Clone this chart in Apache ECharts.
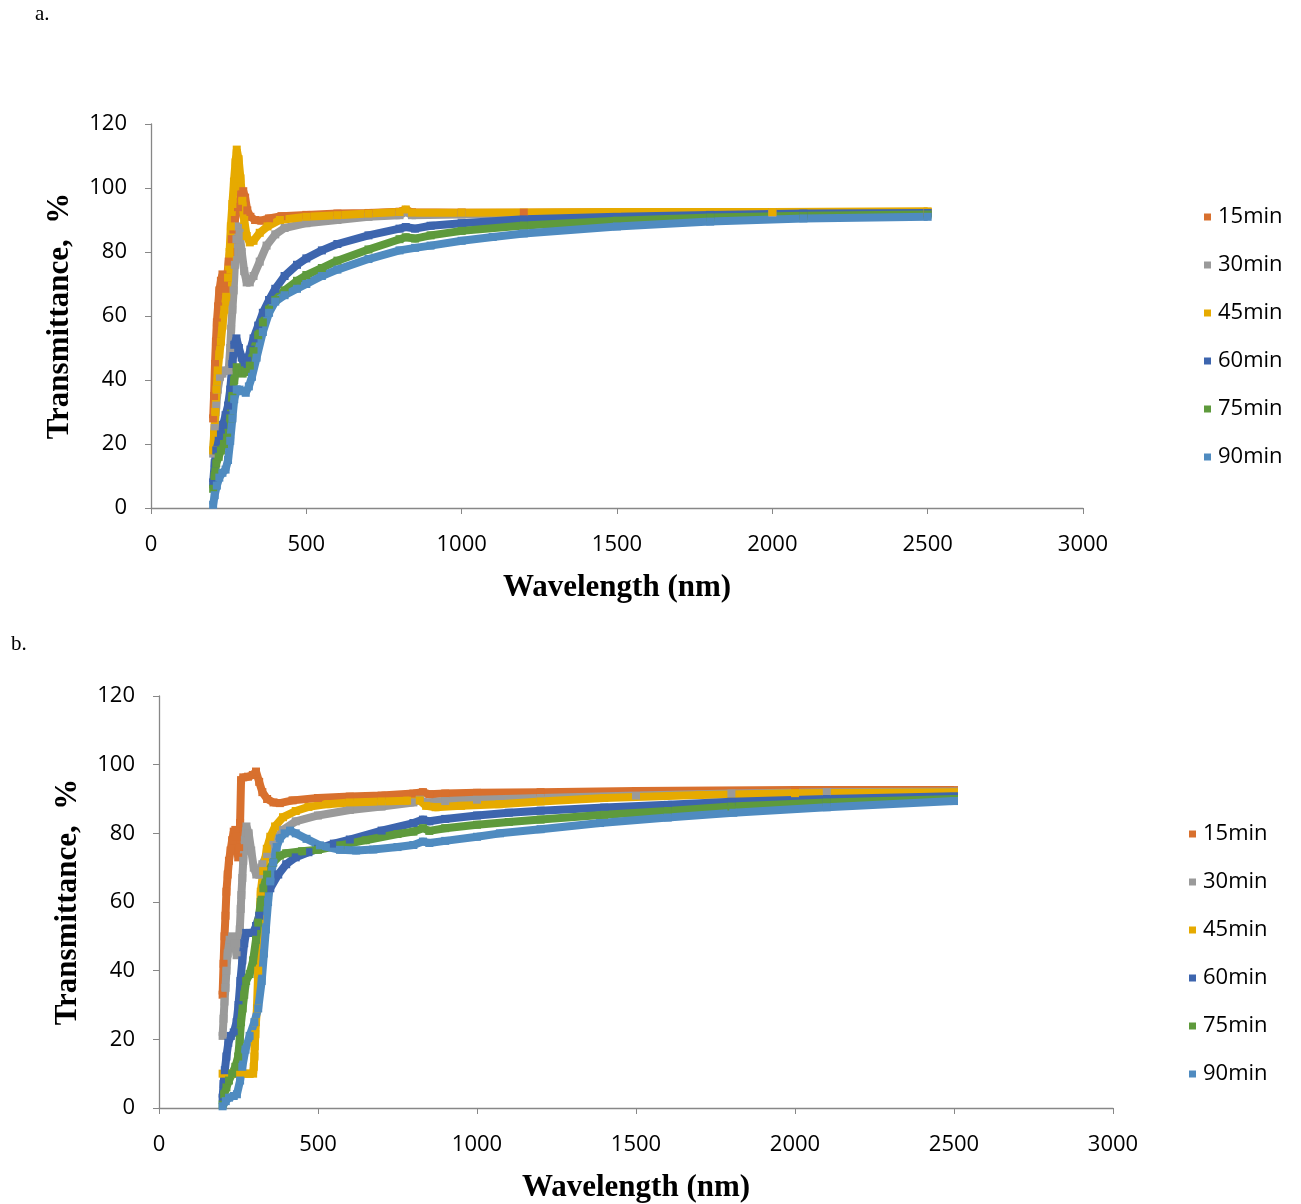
<!DOCTYPE html>
<html>
<head>
<meta charset="utf-8">
<script src="https://cdn.jsdelivr.net/npm/echarts@6/dist/echarts.min.js"></script>
<style>
html,body{margin:0;padding:0;background:#fff;}
#chart{width:1301px;height:1204px;}
</style>
</head>
<body>
<div id="chart"></div>
<script>
// ---------- data (wavelength nm, transmittance %) ----------
var seriesNames = ['15min','30min','45min','60min','75min','90min'];
var xTicks = [0,500,1000,1500,2000,2500,3000];
var yTicks = [0,20,40,60,80,100,120];

// chart a.
var a15 = [[200,28],[203,35],[206,45],[209,52],[212,58],[216,63],[220,68],[225,71],[230,73],[235,70],[240,68],[245,72],[250,77],[255,80],[260,84],[265,87],[270,90],[280,94],[290,98],[297,99],[303,97],[310,93],[320,91],[335,90],[355,89.8],[380,90.5],[420,91.2],[500,91.6],[600,92],[700,92.2],[800,92.6],[820,93],[840,92.4],[1000,92.3],[1200,92.3],[1500,92.4],[2000,92.5],[2500,92.5]];
var a30 = [[200,17],[205,25],[210,32],[215,37],[222,41],[230,42],[240,43],[250,43],[255,50],[258,56],[262,62],[266,68],[270,76],[275,84],[280,88],[285,86],[292,80],[300,74],[308,70.5],[318,70.5],[330,72.5],[350,77],[372,82],[400,85.5],[430,87.5],[500,89],[600,90],[700,91],[800,91.5],[820,92.5],[840,91.5],[1000,91.7],[1500,92],[2000,92.2],[2500,92.3]];
var a45 = [[200,18],[203,23],[207,30],[211,37],[215,43],[220,48],[225,52],[230,57],[236,62],[242,66],[248,72],[253,80],[257,88],[262,95],[267,102],[272,108],[276,112],[282,109],[288,103],[294,96],[300,90],[308,85],[318,83],[330,83.5],[350,86],[375,88],[415,90],[500,91],[600,91.5],[700,92],[800,92.5],[820,93.3],[840,92.3],[1000,92.3],[1500,92.5],[2000,92.5],[2500,92.7]];
var a60 = [[200,8],[205,14],[210,18],[218,21],[225,23],[232,26],[240,29],[248,32],[255,37],[262,45],[268,51],[275,53],[283,50],[292,47],[302,44],[310,46],[320,49.5],[330,53],[345,57],[360,61],[380,65],[400,68.5],[430,72.5],[470,76],[500,78],[550,80.5],[600,82.5],[700,85.2],[800,87.3],[820,87.8],[850,87.3],[900,88.2],[1000,89],[1200,90.2],[1500,91],[1800,91.6],[2100,92],[2500,92.2]];
var a75 = [[200,6],[205,10],[210,14],[218,16],[225,18],[235,20],[245,22],[255,28],[262,35],[268,40],[276,44],[285,43],[295,42],[305,42.5],[318,44.5],[330,49],[345,54],[360,58],[380,62],[400,65],[430,68],[470,71],[500,72.8],[550,75],[600,77.3],[700,80.8],[800,84],[820,84.6],[850,84.2],[900,85.2],[1000,86.6],[1200,88.3],[1500,89.8],[1800,90.8],[2100,91.3],[2500,91.7]];
var a90 = [[200,1],[205,4],[212,7],[220,9.5],[230,11],[240,12],[248,15],[255,21],[262,28],[268,34],[276,37],[285,37],[295,36.5],[305,36],[315,38],[325,41],[340,47],[360,55],[380,61],[400,64.5],[430,66.5],[470,68.5],[500,70],[550,72.5],[600,74.5],[700,77.8],[800,80.5],[850,81.3],[900,82],[1000,83.5],[1100,84.7],[1200,85.8],[1500,88],[1800,89.5],[2100,90.5],[2500,91]];

// chart b.
var b15 = [[200,33],[203,42],[206,50],[209,56],[212,63],[216,68],[220,72],[225,75],[230,78],[235,80.5],[240,81],[245,79],[249,73],[252,76],[255,83],[258,95.5],[265,96.3],[280,96.5],[295,97],[305,98],[315,95],[325,92],[340,90],[360,89],[380,88.8],[420,89.6],[500,90.3],[600,90.7],[700,91],[800,91.6],[830,92],[850,91.4],[900,91.6],[1000,91.8],[1200,92],[1500,92.3],[2000,92.6],[2500,92.6]];
var b30 = [[200,21],[203,26],[206,31],[209,35],[212,40],[216,45],[222,49],[230,50],[238,48],[244,44.5],[250,48],[254,52],[257,58],[259,62],[262,67],[265,72],[270,78],[275,82],[282,80],[290,75],[298,70],[306,68],[315,68],[325,71],[340,74],[360,77],[390,81],[430,83.5],[500,85.2],[600,86.8],[700,87.8],[800,89],[820,89.8],[840,89],[900,89.4],[1000,89.8],[1200,90.3],[1500,91],[1800,91.6],[2100,92],[2500,92.2]];
var b45 = [[200,10],[220,10],[240,10],[255,10],[270,10],[285,10],[296,10],[298,12],[300,15],[301,18],[303,21.5],[305,25],[308,29],[312,40],[316,55],[320,63],[328,69],[339,75.5],[350,79],[365,82],[390,84.7],[430,86.5],[470,87.7],[530,88.5],[600,89],[700,89.3],[780,89.5],[820,89.6],[840,88],[870,87.6],[950,88],[1070,88.5],[1200,89.3],[1400,90.3],[1700,91.2],[2000,91.7],[2500,92]];
var b60 = [[200,3],[203,7],[207,11],[212,15],[218,19],[226,21],[235,22],[244,25],[250,30],[256,37],[262,43],[268,48],[274,51],[285,51],[296,51],[305,53],[315,56],[330,60],[350,64],[375,68],[400,71],[430,73],[470,74.5],[500,75.5],[550,77],[600,78.2],[700,80.8],[800,83],[830,84],[850,83.5],[900,84.2],[1000,85.2],[1100,86],[1200,86.6],[1400,87.5],[1600,88.3],[1800,89.2],[2100,90],[2500,90.8]];
var b75 = [[200,1],[205,4],[212,6],[220,8],[230,10],[240,12],[249,15],[254,20],[258,25],[263,29],[268,33],[274,37],[285,39],[296,43],[305,49],[312,54],[320,60],[328,64],[340,68],[359,71.5],[380,73.5],[400,74.2],[450,74.8],[500,75.2],[570,76.5],[650,78],[750,79.8],[800,80.5],[830,81.5],[850,80.7],[900,81.5],[1000,82.5],[1100,83.3],[1200,84],[1400,85.4],[1600,86.5],[1800,87.8],[2100,89],[2500,90]];
var b90 = [[200,0.5],[210,2],[220,3],[235,3.5],[245,4],[255,8],[262,12],[272,17],[285,21],[300,25],[312,29],[323,37],[330,45],[336,52],[343,60],[350,66],[359,71.5],[370,76],[380,78.5],[395,80],[412,80.8],[430,80],[464,78.4],[506,76.5],[569,75.2],[620,75],[674,75.3],[750,76],[800,76.6],[830,77.6],[850,77.2],[900,77.8],[1000,79],[1072,80],[1200,81.2],[1387,83],[1600,84.6],[1806,86],[2100,87.6],[2500,89.4]];

var colors = ['#D8702E','#9A9A9A','#E6AA00','#3D65AE','#5E9A3C','#4F8BC0'];
var dataA = [a15,a30,a45,a60,a75,a90];
var dataB = [b15,b30,b45,b60,b75,b90];

// ---------- chart ----------
var chart = echarts.init(document.getElementById('chart'), null, {renderer:'canvas'});
var tickFont = {fontFamily:'Open Sans', fontSize:22, color:'#000'};
var titleFont = {fontFamily:'Liberation Serif', fontSize:31, fontWeight:'bold', color:'#000'};
var axisLine = {show:true, lineStyle:{color:'#878787', width:1.3}};
function plain(v){ return String(v); }

function xAxis(gi){
  return {type:'value', gridIndex:gi, min:xTicks[0], max:xTicks[xTicks.length-1], interval:xTicks[1]-xTicks[0],
    name:'Wavelength (nm)', nameLocation:'middle', nameGap:64, nameTextStyle:titleFont,
    axisLine:axisLine, axisTick:{show:true, length:6, lineStyle:{color:'#878787'}},
    axisLabel:Object.assign({margin:26, formatter:plain}, tickFont), splitLine:{show:false}};
}
function yAxis(gi){
  return {type:'value', gridIndex:gi, min:yTicks[0], max:yTicks[yTicks.length-1], interval:yTicks[1]-yTicks[0],
    name:'Transmittance,  %', nameLocation:'middle', nameGap:76, nameTextStyle:titleFont,
    axisLine:axisLine, axisTick:{show:true, length:6, lineStyle:{color:'#878787'}},
    axisLabel:Object.assign({margin:24, formatter:plain}, tickFont), splitLine:{show:false}};
}

var series = [];
[dataA, dataB].forEach(function(set, gi){
  set.forEach(function(d, i){
    series.push({
      name: seriesNames[i], type:'line', xAxisIndex:gi, yAxisIndex:gi,
      data:d, symbol:'rect', symbolSize:8, showSymbol:true,
      itemStyle:{color:colors[i]},
      lineStyle:{color:colors[i], width:8},
      animation:false
    });
  });
});

function legend(left, top){
  return {orient:'vertical', left:left, top:top, icon:'rect', itemWidth:7, itemHeight:7,
    itemGap:24, data:seriesNames,
    textStyle:{fontFamily:'Open Sans', fontSize:22, color:'#000', lineHeight:24, padding:[0,0,0,2]}};
}

chart.setOption({
  backgroundColor:'#fff',
  animation:false,
  grid:[
    {left:151, top:124, width:932, height:384},
    {left:159, top:696, width:954, height:415}
  ],
  xAxis:[xAxis(0), xAxis(1)],
  yAxis:[yAxis(0), yAxis(1)],
  legend:[legend(1199, 200), legend(1184, 817)],
  graphic:[
    {type:'text', left:35, top:4, style:{text:'a.', fontFamily:'Liberation Serif', fontSize:21, fill:'#000'}},
    {type:'text', left:11, top:634, style:{text:'b.', fontFamily:'Liberation Serif', fontSize:21, fill:'#000'}}
  ],
  series:series
});
</script>
</body>
</html>
